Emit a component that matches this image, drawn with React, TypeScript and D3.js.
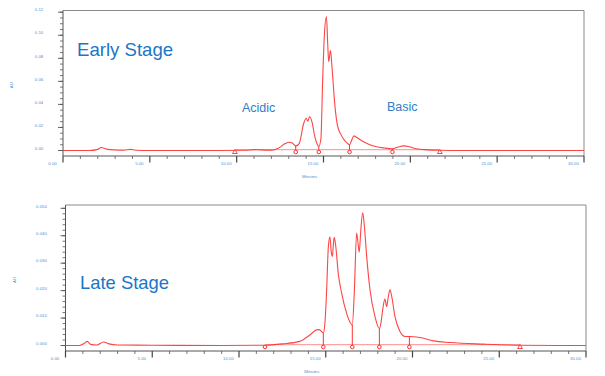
import React from "react";
import * as d3 from "d3";

// ---------- data ----------
const earlyTime = [0, 1.5, 2.0, 2.2, 2.5, 3.0, 3.5, 3.9, 4.2, 5.0, 9.0, 10.5, 11.0, 11.4, 12.0, 12.4, 12.8, 13.0, 13.2, 13.4, 13.6, 13.85, 14.0, 14.1, 14.2, 14.35, 14.5, 14.65, 14.73, 14.85, 14.95, 15.05, 15.17, 15.25, 15.3, 15.4, 15.5, 15.65, 15.8, 16.0, 16.2, 16.4, 16.5, 16.6, 16.75, 16.9, 17.2, 17.6, 18.0, 18.5, 18.97, 19.3, 19.6, 19.9, 20.3, 20.8, 21.7, 23, 30];
const earlyAU = [0, 0, 0.001, 0.0026, 0.0012, 0.0005, 0.0003, 0.001, 0.0002, 0, 0, 0.0002, 0.0008, 0.0005, 0.0003, 0.002, 0.006, 0.0072, 0.0065, 0.004, 0.006, 0.023, 0.028, 0.0255, 0.0295, 0.024, 0.012, 0.005, 0.0035, 0.01, 0.06, 0.1, 0.116, 0.09, 0.077, 0.087, 0.07, 0.04, 0.022, 0.014, 0.009, 0.006, 0.005, 0.008, 0.0127, 0.0115, 0.0085, 0.0055, 0.0035, 0.0022, 0.0015, 0.003, 0.004, 0.0035, 0.0015, 0.0008, 0.0002, 0, 0];
const earlyCircles = [13.4, 14.73, 16.5, 18.97];
const earlyTriangles = [9.9, 21.7];

const lateTime = [0, 0.8, 1.1, 1.25, 1.45, 1.8, 2.2, 2.5, 3.0, 5.0, 9.0, 11.5, 12.5, 13.5, 14.1, 14.47, 14.6, 14.76, 14.86, 14.95, 15.05, 15.15, 15.24, 15.32, 15.38, 15.44, 15.49, 15.58, 15.72, 15.92, 16.2, 16.4, 16.53, 16.65, 16.78, 16.85, 16.93, 17.02, 17.13, 17.22, 17.36, 17.55, 17.84, 18.09, 18.2, 18.28, 18.41, 18.51, 18.6, 18.7, 18.8, 18.99, 19.28, 19.57, 19.82, 20.43, 21.2, 22.16, 24.1, 26.2, 30];
const lateAU = [0, 0, 0.0008, 0.0015, 0.0004, 0.0002, 0.0013, 0.0006, 0.0002, 0.0001, 0, 0.0001, 0.0006, 0.0015, 0.0039, 0.0057, 0.0058, 0.0051, 0.0045, 0.008, 0.02, 0.036, 0.0396, 0.034, 0.0324, 0.037, 0.0394, 0.036, 0.0263, 0.019, 0.0118, 0.0085, 0.0075, 0.02, 0.041, 0.038, 0.034, 0.042, 0.0484, 0.044, 0.0324, 0.0203, 0.0105, 0.0062, 0.009, 0.013, 0.0169, 0.0142, 0.0175, 0.0203, 0.018, 0.0105, 0.0051, 0.0033, 0.0033, 0.0029, 0.0017, 0.0011, 0.0005, 0.0001, 0];
const lateCircles = [11.5, 14.86, 16.53, 18.09, 19.82];
const lateTriangles = [26.2];

const xTicks = [0, 5, 10, 15, 20, 25, 30];
const earlyYTicks = [0, 0.02, 0.04, 0.06, 0.08, 0.1, 0.12];
const lateYTicks = [0, 0.01, 0.02, 0.03, 0.04, 0.05];

const LABEL = "#4a8fd6";
const RED = "#ff3030";

type PanelProps = {
  time: number[];
  au: number[];
  circles: number[];
  triangles: number[];
  yTicks: number[];
  yMax: number;
  yMinorStep: number;
  yFmt: (v: number) => string;
  frame: { left: number; right: number; top: number; bottom: number; y0: number; yTop: number };
  children?: React.ReactNode;
};

function Panel(p: PanelProps) {
  const { frame } = p;
  const x = d3.scaleLinear().domain([0, 30]).range([frame.left, frame.right]);
  const y = d3.scaleLinear().domain([0, p.yMax]).range([frame.y0, frame.yTop]);
  const pts = p.time.map((t, i) => [t, p.au[i]] as [number, number]);
  const line = d3
    .line<[number, number]>()
    .x((d) => x(d[0]))
    .y((d) => y(d[1]))
    .curve(d3.curveMonotoneX);
  const interp = (t: number) => {
    const i = d3.bisectLeft(p.time, t);
    if (i <= 0) return p.au[0];
    if (i >= p.time.length) return p.au[p.au.length - 1];
    const t0 = p.time[i - 1], t1 = p.time[i];
    const f = (t - t0) / (t1 - t0);
    return p.au[i - 1] + f * (p.au[i] - p.au[i - 1]);
  };
  const xMinor = d3.range(0, 31, 1).filter((v) => v % 5 !== 0);
  const nMinor = Math.round(p.yMax / p.yMinorStep);
  const yMinor = d3.range(0, nMinor + 1).map((i) => i * p.yMinorStep);
  const marks = [...p.circles, ...p.triangles].sort((a, b) => a - b);
  const bStart = marks[0];
  const bEnd = marks[marks.length - 1];
  const base = y(0);
  return (
    <g>
      {/* frame */}
      <line x1={frame.left} x2={frame.right} y1={frame.top} y2={frame.top} stroke="#8a8a8a" strokeWidth={1} />
      <line x1={frame.right} x2={frame.right} y1={frame.top} y2={frame.bottom} stroke="#8a8a8a" strokeWidth={1} />
      <line x1={frame.left} x2={frame.left} y1={frame.top} y2={frame.bottom} stroke="#555" strokeWidth={1} />
      <line x1={frame.left} x2={frame.right} y1={frame.bottom} y2={frame.bottom} stroke="#555" strokeWidth={1} />
      {/* y ticks */}
      {yMinor.map((v, i) => (
        <line key={"ym" + i} x1={frame.left - 3} x2={frame.left} y1={y(v)} y2={y(v)} stroke="#555" strokeWidth={0.8} />
      ))}
      {p.yTicks.map((v, i) => (
        <g key={"yt" + i}>
          <line x1={frame.left - 5} x2={frame.left} y1={y(v)} y2={y(v)} stroke="#555" strokeWidth={0.9} />
          <text x={frame.left - 24} y={y(v) - 0.8} fontSize={4.3} fill={LABEL} fontFamily="Arial, Liberation Sans, sans-serif" textAnchor="middle">
            {p.yFmt(v)}
          </text>
        </g>
      ))}
      {/* x ticks */}
      {xMinor.map((v) => (
        <line key={"xm" + v} x1={x(v)} x2={x(v)} y1={frame.bottom} y2={frame.bottom + 3} stroke="#555" strokeWidth={0.8} />
      ))}
      {xTicks.map((v) => (
        <g key={"xt" + v}>
          <line x1={x(v)} x2={x(v)} y1={frame.bottom} y2={frame.bottom + 6.5} stroke="#444" strokeWidth={1.2} />
          <text x={x(v) - 10.5} y={frame.bottom + 9} fontSize={4.3} fill={LABEL} fontFamily="Arial, Liberation Sans, sans-serif" textAnchor="middle">
            {v.toFixed(2)}
          </text>
        </g>
      ))}
      <text x={x(14.2)} y={frame.bottom + 22} fontSize={4.3} fill={LABEL} fontFamily="Arial, Liberation Sans, sans-serif" textAnchor="middle">
        Minutes
      </text>
      <text
        transform={`translate(${frame.left - 50},${(frame.top + frame.bottom) / 2 + 2}) rotate(-90)`}
        fontSize={4.3}
        fill={LABEL}
        fontFamily="Arial, Liberation Sans, sans-serif"
        textAnchor="middle"
      >
        AU
      </text>
      {/* integration baseline */}
      <line x1={x(bStart)} x2={x(bEnd)} y1={base - 0.8} y2={base - 0.8} stroke="#ff8080" strokeWidth={0.9} />
      {/* signal */}
      <path d={line(pts) ?? ""} fill="none" stroke={RED} strokeWidth={1.1} strokeOpacity={0.9} strokeLinejoin="round" />
      {/* drop lines & circles */}
      {p.circles.map((t, i) => (
        <g key={"c" + i}>
          <line x1={x(t)} x2={x(t)} y1={y(interp(t))} y2={base + 1} stroke={RED} strokeWidth={1} />
          <circle cx={x(t)} cy={base + 1.5} r={1.8} fill="white" stroke={RED} strokeWidth={1} />
        </g>
      ))}
      {p.triangles.map((t, i) => {
        const cx = x(t);
        const ty = base;
        return (
          <path
            key={"t" + i}
            d={`M${cx},${ty - 1} L${cx + 2.4},${ty + 3} L${cx - 2.4},${ty + 3} Z`}
            fill="white"
            stroke={RED}
            strokeWidth={0.9}
          />
        );
      })}
      {p.children}
    </g>
  );
}

export default function App() {
  const font = "Arial, Liberation Sans, sans-serif";
  return (
    <svg width={605} height={376} style={{ position: "absolute", left: 0, top: 0, background: "white" }}>
      <Panel
        time={earlyTime}
        au={earlyAU}
        circles={earlyCircles}
        triangles={earlyTriangles}
        yTicks={earlyYTicks}
        yMax={0.12}
        yMinorStep={0.005}
        yFmt={(v) => v.toFixed(2)}
        frame={{ left: 63, right: 584, top: 10.5, bottom: 156, y0: 150.5, yTop: 12.2 }}
      >
        <text x={77} y={56} fontSize={18.6} fill="#1a76c6" fontFamily={font}>
          Early Stage
        </text>
        <text x={242} y={112} fontSize={12.5} fill="#2e80c8" fontFamily={font}>
          Acidic
        </text>
        <text x={387} y={111} fontSize={12.5} fill="#2e80c8" fontFamily={font}>
          Basic
        </text>
      </Panel>
      <Panel
        time={lateTime}
        au={lateAU}
        circles={lateCircles}
        triangles={lateTriangles}
        yTicks={lateYTicks}
        yMax={0.05}
        yMinorStep={0.002}
        yFmt={(v) => v.toFixed(3)}
        frame={{ left: 65.5, right: 586, top: 205, bottom: 351, y0: 345.5, yTop: 208.3 }}
      >
        <text x={80} y={289} fontSize={18.4} fill="#1a76c6" fontFamily={font}>
          Late Stage
        </text>
      </Panel>
    </svg>
  );
}
